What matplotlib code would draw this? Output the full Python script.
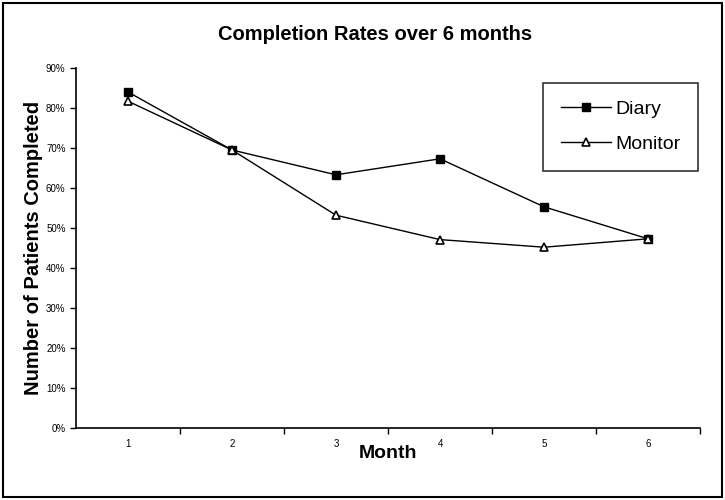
import matplotlib.pyplot as plt
from matplotlib.patches import Rectangle
from matplotlib.ticker import FuncFormatter

plt.rcParams['font.family'] = ['Liberation Sans', 'DejaVu Sans']

months = [1, 2, 3, 4, 5, 6]
diary = [84.0, 69.5, 63.3, 67.3, 55.3, 47.3]
monitor = [81.7, 69.5, 53.2, 47.1, 45.2, 47.3]

fig = plt.figure(figsize=(7.25, 5), dpi=100)
ax = fig.add_axes([76 / 725, 1 - 428 / 500, 624 / 725, 360 / 500])

ax.plot(months, diary, color='black', lw=1, marker='s', ms=5.5,
        mfc='black', mec='black', label='Diary')
ax.plot(months, monitor, color='black', lw=1, marker='^', ms=6,
        mfc='white', mec='black', mew=1.2, label='Monitor')

ax.set_xlim(0.5, 6.5)
ax.set_ylim(0, 90)
ax.set_yticks(range(0, 91, 10))
ax.yaxis.set_major_formatter(FuncFormatter(lambda v, p: f'{v:.0f}%'))
ax.set_xticks(months)
ax.set_xticks([1.5, 2.5, 3.5, 4.5, 5.5, 6.5], minor=True)
ax.tick_params(axis='x', which='major', length=0, labelsize=7, pad=8)
ax.tick_params(axis='x', which='minor', length=4, direction='out', width=1)
ax.tick_params(axis='y', length=4, direction='out', labelsize=7, width=1)

for s in ['top', 'right']:
    ax.spines[s].set_visible(False)
ax.spines['left'].set_linewidth(1.2)
ax.spines['bottom'].set_linewidth(1.2)

ax.set_xlabel('Month', fontsize=14, fontweight='bold', labelpad=-3)
ax.set_ylabel('Number of Patients Completed', fontsize=14.5, fontweight='bold', labelpad=2)
fig.text(375 / 725, 1 - 34 / 500, 'Completion Rates over 6 months',
         ha='center', va='center', fontsize=14.5, fontweight='bold')

leg = ax.legend(loc='upper left', bbox_to_anchor=(543 / 725, 1 - 83 / 500),
                bbox_transform=fig.transFigure, fontsize=14, frameon=True,
                fancybox=False, edgecolor='black', handlelength=2.6,
                borderpad=0.9, labelspacing=0.9, handletextpad=0.2,
                borderaxespad=0)
leg.get_frame().set_linewidth(1.2)

fig.patches.append(Rectangle((3 / 725, 3 / 500), 719 / 725, 494 / 500,
                             transform=fig.transFigure, fill=False,
                             edgecolor='black', lw=1.5))

fig.savefig('out.png', dpi=100)
